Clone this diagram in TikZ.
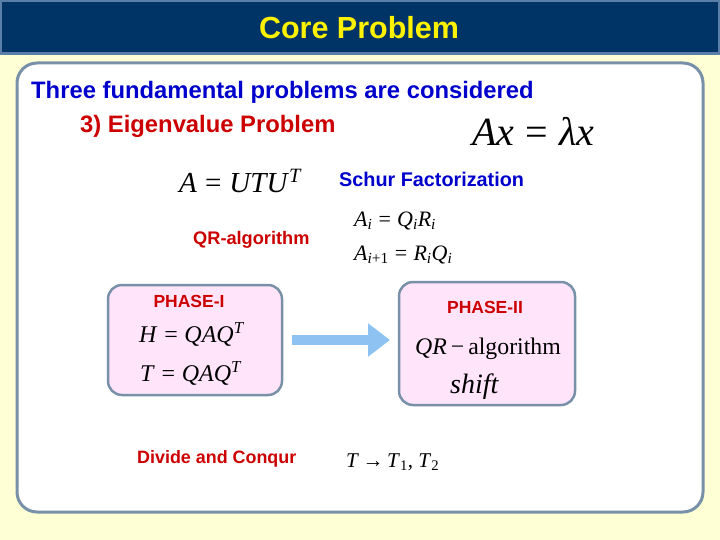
\documentclass[tikz,border=0pt]{standalone}
\usepackage{fontspec}
\setmainfont{Liberation Serif}
\newfontfamily\arialb{Liberation Sans}
\usetikzlibrary{arrows.meta}
\definecolor{bgyellow}{HTML}{FFFFD6}
\definecolor{navy}{HTML}{003366}
\definecolor{navyedge}{HTML}{5B7FA8}
\definecolor{boxedge}{HTML}{7890A8}
\definecolor{pinkfill}{HTML}{FFE4FA}
\definecolor{txtblue}{HTML}{0000CC}
\definecolor{txtred}{HTML}{CC0000}
\definecolor{arrowblue}{HTML}{8EC2F2}
\newcommand\iv[1]{\textit{#1}}
\newcommand\eqs{\;=\;}
\tikzset{
  x=1pt,y=-1pt,
  sanslbl/.style={font=\arialb\bfseries\fontsize{#1}{#1}\selectfont,inner sep=0pt},
  mathlbl/.style={font=\fontsize{#1}{#1}\selectfont,inner sep=0pt},
  phasebox/.style={draw=boxedge,line width=2.5pt,fill=pinkfill,rounded corners=14pt},
}
\begin{document}
\begin{tikzpicture}
\fill[bgyellow] (0,0) rectangle (720,540);
\useasboundingbox (0,0) rectangle (720,540);
% title bar
\fill[navyedge] (0,0) rectangle (720,55);
\fill[navy] (2,2) rectangle (718,52);
\node[sanslbl=30.5,text=yellow] (title) at (359,28) {Core Problem};
% main panel
\draw[boxedge,line width=3pt,fill=white,rounded corners=20pt] (17,63) rectangle (703,512);
\node[sanslbl=23.8,text=txtblue,anchor=west] (intro) at (31,92) {Three fundamental problems are considered};
\node[sanslbl=23.8,text=txtred,anchor=west] (eig) at (80,126) {3) Eigenvalue Problem};
\node[mathlbl=40,anchor=west] (axlx) at (472,131) {\iv{Ax}\eqs\iv{λx}};
\node[mathlbl=29,anchor=west] (schur) at (179,181) {\iv{A}\eqs\iv{UTU}\textsuperscript{\iv{T}}};
\node[sanslbl=19.8,text=txtblue,anchor=west] (schurlbl) at (339,179) {Schur Factorization};
\node[sanslbl=18.2,text=txtred,anchor=west] (qrlbl) at (193,240) {QR-algorithm};
\node[mathlbl=22,anchor=west] (qr1) at (354,221) {\iv{A}\textsubscript{\iv{i}}\eqs\iv{Q}\textsubscript{\iv{i}}\iv{R}\textsubscript{\iv{i}}};
\node[mathlbl=22,anchor=west] (qr2) at (354,255) {\iv{A}\textsubscript{\iv{i}+1}\eqs\iv{R}\textsubscript{\iv{i}}\iv{Q}\textsubscript{\iv{i}}};
% phase I
\draw[phasebox] (108,285) rectangle (282,395);
\coordinate (p1e) at (282,340);
\node[sanslbl=17.5,text=txtred] (ph1) at (189,301) {PHASE-I};
\node[mathlbl=24,anchor=west] (h1) at (139,334) {\iv{H}\eqs\iv{QAQ}\textsuperscript{\iv{T}}};
\node[mathlbl=24,anchor=west] (t1) at (140,373) {\iv{T}\eqs\iv{QAQ}\textsuperscript{\iv{T}}};
% phase II
\draw[phasebox] (399,282) rectangle (575,405);
\coordinate (p2w) at (399,340);
\node[sanslbl=17.5,text=txtred] (ph2) at (485,307) {PHASE-II};
\node[mathlbl=23.8,anchor=west] (qra) at (415,349) {\iv{QR}\,−\,algorithm};
\node[mathlbl=28,anchor=west] (shift) at (450,387) {\iv{shift}};
% arrow
\draw[arrowblue,line width=10pt,-{Triangle[width=32pt,length=22pt]}] ([xshift=10pt]p1e) -- ([xshift=-9pt]p2w);
% divide and conquer
\node[sanslbl=17.9,text=txtred,anchor=west] (dc) at (137,459) {Divide and Conqur};
\node[mathlbl=21,anchor=west] (tt) at (346,462) {\iv{T}\,→\,\iv{T}\textsubscript{1}, \iv{T}\textsubscript{2}};
\end{tikzpicture}
\end{document}
